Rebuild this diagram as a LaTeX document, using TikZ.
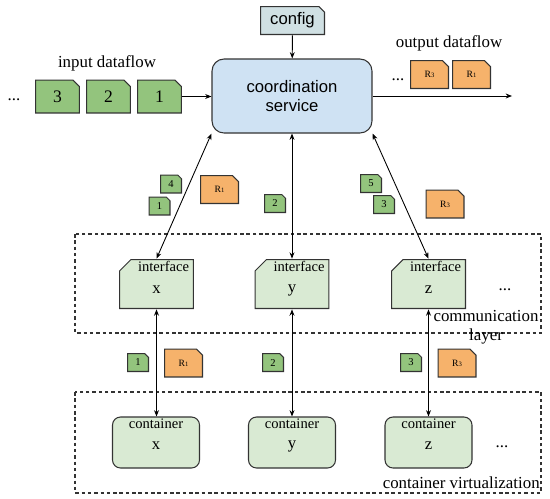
\documentclass[tikz,border=0pt]{standalone}
\usepackage{fontspec}
\setmainfont{Liberation Serif}
\newfontfamily\arialfont{Liberation Sans}
\usepackage{tikz}
\usetikzlibrary{arrows.meta}
\definecolor{docG}{HTML}{93C47D}
\definecolor{docO}{HTML}{F6B26B}
\definecolor{boxG}{HTML}{D9EAD3}
\definecolor{svcB}{HTML}{CFE2F3}
\definecolor{cfgB}{HTML}{D0E0E3}
\definecolor{edge}{HTML}{333333}
\tikzset{>={Stealth[length=3.6pt,width=2.8pt]}}
\tikzset{
  sheetline/.style={draw=edge,line width=0.6pt},
  % folded corner top right
  sheetNE/.style 2 args={rectangle,inner sep=0pt,path picture={
    \path[sheetline,fill=#1]
      ([xshift=.3pt,yshift=.3pt]path picture bounding box.south west)
      -- ([xshift=.3pt,yshift=-.3pt]path picture bounding box.north west)
      -- ([xshift=-#2,yshift=-.3pt]path picture bounding box.north east)
      -- ([xshift=-.3pt,yshift=-#2]path picture bounding box.north east)
      -- ([xshift=-.3pt,yshift=.3pt]path picture bounding box.south east) -- cycle;}},
  % folded corner top left
  sheetNW/.style 2 args={rectangle,inner sep=0pt,path picture={
    \path[sheetline,fill=#1]
      ([xshift=.3pt,yshift=.3pt]path picture bounding box.south west)
      -- ([xshift=.3pt,yshift=-#2]path picture bounding box.north west)
      -- ([xshift=#2,yshift=-.3pt]path picture bounding box.north west)
      -- ([xshift=-.3pt,yshift=-.3pt]path picture bounding box.north east)
      -- ([xshift=-.3pt,yshift=.3pt]path picture bounding box.south east) -- cycle;}},
  bigdoc/.style={sheetNE={docG}{4pt},minimum width=0.9cm,minimum height=0.68cm,
    font=\fontsize{10}{11}\selectfont},
  smalldoc/.style={sheetNE={docG}{2.4pt},minimum width=0.44cm,minimum height=0.38cm,
    font=\fontsize{6}{7}\selectfont},
  resdoc/.style={sheetNE={docO}{3.8pt},minimum width=0.78cm,minimum height=0.58cm,
    font=\fontsize{5.5}{6}\selectfont},
  cfg/.style={sheetNE={cfgB}{3.4pt},minimum width=1.3cm,minimum height=0.58cm,
    font=\arialfont\fontsize{9.5}{11}\selectfont},
  svc/.style={draw=edge,line width=0.6pt,fill=svcB,rounded corners=0.24cm,
    minimum width=3.2cm,minimum height=1.48cm,align=center,
    font=\arialfont\fontsize{9.5}{11}\selectfont},
  iface/.style={sheetNW={boxG}{6.8pt},minimum width=1.5cm,minimum height=1.0cm},
  cont/.style={draw=edge,line width=0.6pt,fill=boxG,rounded corners=0.16cm,
    minimum width=1.74cm,minimum height=1.02cm},
  tagtxt/.style={inner sep=0pt,font=\fontsize{8.3}{9}\selectfont},
  lettxt/.style={inner sep=0pt,font=\fontsize{9.5}{10}\selectfont},
  lbl/.style={inner sep=0pt,font=\fontsize{9.6}{10.8}\selectfont},
  layerbox/.style={draw=edge,line width=0.6pt,dash pattern=on 2pt off 1.6pt},
  link/.style={draw=black,line width=0.5pt}
}
\newcommand{\res}[1]{R{\fontsize{3.8}{4}\selectfont #1}}
\newcommand{\iface}[4]{%
  \node[iface] (#1) at (#2,#3) {};
  \node[tagtxt,anchor=north east] (#1tag) at ([xshift=-2.8pt,yshift=-1.1pt]#1.north east) {interface};
  \node[lettxt] (#1let) at ([yshift=-3.4pt]#1.center) {#4};}
\newcommand{\contbox}[4]{%
  \node[cont] (#1) at (#2,#3) {};
  \node[tagtxt,anchor=north] (#1tag) at ([yshift=-1.1pt]#1.north) {container};
  \node[lettxt] (#1let) at ([yshift=-2pt]#1.center) {#4};}

\begin{document}
\begin{tikzpicture}[x=0.02cm,y=-0.02cm]
\useasboundingbox (0,0) rectangle (550,498);
% layers
\draw[layerbox] (75,234) rectangle (541,333);
\draw[layerbox] (75,392) rectangle (541,493);
\node[lbl,align=center] (comm) at (486,327) {communication\\layer};
\node[lbl,anchor=east] (virt) at (540,483) {container virtualization};
% coordination service
\node[cfg] (cfg) at (292.5,20.5) {config};
\node[svc] (svc) at (292,96) {coordination\\service};
% input dataflow
\node[lbl] (inlbl) at (107,63) {input dataflow};
\node[lbl] (indots) at (14,100) {...};
\node[bigdoc] (in3) at (57.5,96.5) {3};
\node[bigdoc] (in2) at (108.5,96.5) {2};
\node[bigdoc] (in1) at (159.5,96.5) {1};
% output dataflow
\node[lbl] (outlbl) at (449,43) {output dataflow};
\node[lbl] (outdots) at (398,80) {...};
\node[resdoc] (out3) at (429.5,74.5) {\res{3}};
\node[resdoc] (out1) at (471.5,74.5) {\res{1}};
\coordinate (outend) at (512,96);
% messages to interfaces
\node[smalldoc] (m4) at (171,184) {4};
\node[smalldoc] (m1) at (159.5,206) {1};
\node[resdoc] (r1) at (219.5,189.5) {\res{1}};
\node[smalldoc] (m2) at (275,203.5) {2};
\node[smalldoc] (m5) at (371,183.5) {5};
\node[smalldoc] (m3) at (384,204.5) {3};
\node[resdoc] (r3) at (445,204) {\res{3}};
% interfaces
\iface{ix}{156.5}{284}{x}
\iface{iy}{292}{284}{y}
\iface{iz}{428.5}{284}{z}
\node[lbl] (idots) at (505,290) {...};
% messages to containers
\node[smalldoc] (c1) at (138,362.5) {1};
\node[resdoc] (cr1) at (183.5,363) {\res{1}};
\node[smalldoc] (c2) at (273,362.5) {2};
\node[smalldoc] (c3) at (411,362.5) {3};
\node[resdoc] (cr3) at (457,363) {\res{3}};
% containers
\contbox{cx}{156}{442.5}{x}
\contbox{cy}{292}{442.5}{y}
\contbox{cz}{428.5}{442.5}{z}
\node[lbl] (cdots) at (502,447) {...};
% links
\draw[link,->] (cfg) -- (svc);
\draw[link,->] (in1.east) -- (in1.east -| svc.west);
\draw[link,->] (svc.east) -- (outend);
\draw[link,<->] (svc.south west) -- (ix.north);
\draw[link,<->] (svc.south) -- (iy.north);
\draw[link,<->] (svc.south east) -- (iz.north);
\draw[link,<->] (ix.south) -- (ix.south |- cx.north);
\draw[link,<->] (iy.south) -- (iy.south |- cy.north);
\draw[link,<->] (iz.south) -- (iz.south |- cz.north);
\end{tikzpicture}
\end{document}
